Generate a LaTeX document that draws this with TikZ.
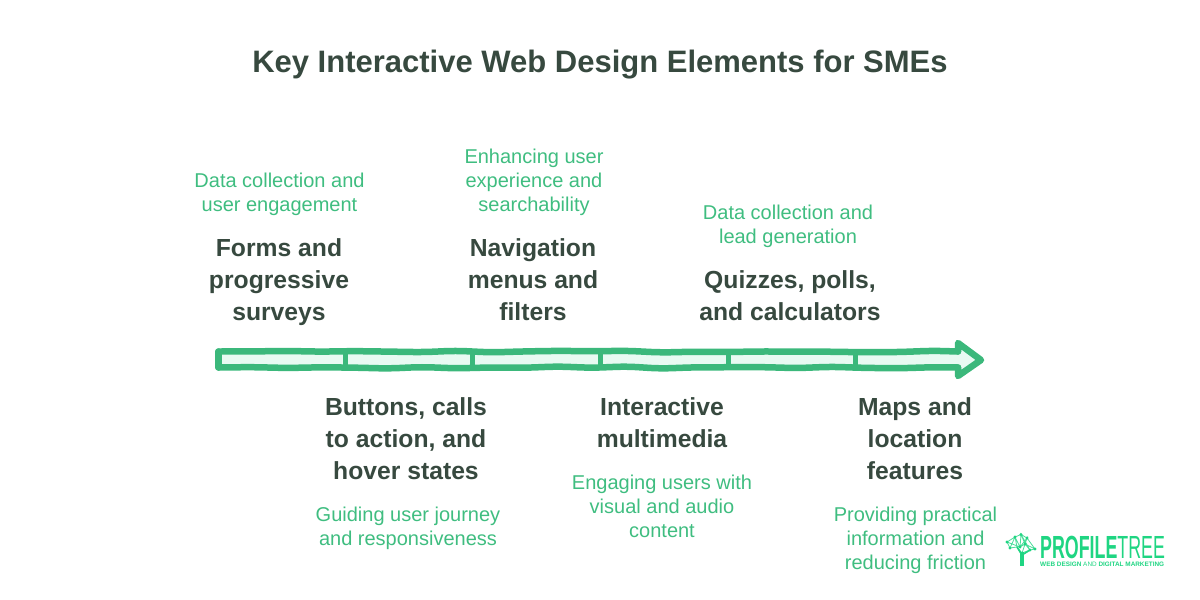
\documentclass[tikz,border=0pt]{standalone}
\usepackage{fontspec}
\setmainfont{Liberation Sans}
\usetikzlibrary{decorations.pathmorphing}
\definecolor{titlegray}{HTML}{37493F}
\definecolor{capgreen}{HTML}{3FBD80}
\definecolor{arrowgreen}{HTML}{3BB87B}
\definecolor{arrowfill}{HTML}{E8FAF2}
\definecolor{logogreen}{HTML}{1FD582}
\tikzset{
  heading/.style={anchor=base,align=center,inner sep=0pt,text=titlegray,font=\fontsize{24.7}{32}\selectfont\bfseries},
  caption/.style={anchor=base,align=center,inner sep=0pt,text=capgreen,font=\fontsize{20}{24}\selectfont},
  divider/.style={line width=5pt,arrowgreen},
  outline/.style={line width=6.5pt,arrowgreen,line join=round,line cap=round},
  wobbly/.style={outline,rounded corners=10pt,decorate,decoration={random steps,segment length=34pt,amplitude=1.1pt}},
  logotwig/.style={line width=0.8pt,logogreen!80},
  logoleaf/.style={circle,fill=logogreen,inner sep=0pt,minimum size=3.4pt}
}
\begin{document}
\begin{tikzpicture}[x=1pt,y=-1pt]
        \useasboundingbox (0,0) rectangle (1200,600);

        \node[anchor=base,inner sep=0pt,text=titlegray,font=\fontsize{31}{36}\selectfont\bfseries] (title) at (600,72) {Key Interactive Web Design Elements for SMEs};

        % arrow
        \fill[arrowfill] (218,351) -- (958,351) -- (958,343) -- (981,360) -- (958,376) -- (958,368) -- (218,368) -- cycle;
        \draw[outline] (218.5,351.5) -- (218.5,367.5);
        \draw[wobbly] (218.5,351.5) -- (958,351.5);
        \draw[wobbly] (218.5,367.5) -- (958,367.5);
        \draw[outline] (958,351.5) -- (958,343) -- (981,360) -- (958,376) -- (958,367.5);
        \foreach \x in {345,472,600,728,855}
          \draw[divider] (\x,352) -- (\x,367);

        % labels above
        \node[heading] (forms) at (279,320.5) {Forms and\\progressive\\surveys};
        \node[heading] (nav) at (533,320.5) {Navigation\\menus and\\filters};
        \node[heading] (quiz) at (790,320.5) {Quizzes, polls,\\and calculators};
        \node[caption] (formscap) at (279.5,211) {Data collection and\\user engagement};
        \node[caption] (navcap) at (534,211) {Enhancing user\\experience and\\searchability};
        \node[caption] (quizcap) at (788,243) {Data collection and\\lead generation};

        % labels below
        \node[heading] (btn) at (406,479.5) {Buttons, calls\\to action, and\\hover states};
        \node[heading] (media) at (662,447.5) {Interactive\\multimedia};
        \node[heading] (maps) at (915,479.5) {Maps and\\location\\features};
        \node[caption] (btncap) at (408,545) {Guiding user journey\\and responsiveness};
        \node[caption] (mediacap) at (662,537) {Engaging users with\\visual and audio\\content};
        \node[caption] (mapscap) at (915.5,569) {Providing practical\\information and\\reducing friction};

        % logo
        \draw[logotwig] (1007,542) -- (1015,537) -- (1021,534.5) -- (1027,538) -- (1035,549) -- (1030,550) -- (1022,553) -- (1017,547) -- (1010,548) -- (1007,542)
          (1015,537) -- (1020,547) -- (1021,534.5) -- (1025,544) -- (1035,549) (1007,542) -- (1020,547) -- (1027,538) -- (1025,544) -- (1030,550)
          (1015,537) -- (1017,547) (1010,548) -- (1015,537) (1020,547) -- (1025,544) -- (1022,553) (1021,534.5) -- (1030,550);
        \foreach \a/\b in {1007/542,1015/537,1021/534.5,1027/538,1035/549,1030/550,1020/547,1010/548,1025/544}
          \node[logoleaf] at (\a,\b) {};
        \draw[line width=3.6pt,logogreen] (1022,565.5) -- (1022,552);
        \draw[line width=1.6pt,logogreen] (1022,555) -- (1017,547) (1022,555) -- (1030,550);
        \node[anchor=base west,inner sep=0pt,text=logogreen,font=\fontsize{32}{32}\selectfont] (brand) at (1040,558) {\scalebox{0.557}[1]{\bfseries PROFILE\mdseries TREE}};
        \node[anchor=base west,inner sep=0pt,text=logogreen,font=\fontsize{6.4}{8}\selectfont] (tagline) at (1040,566.5) {\textbf{WEB DESIGN} AND \textbf{DIGITAL MARKETING}};
      \end{tikzpicture}
\end{document}
